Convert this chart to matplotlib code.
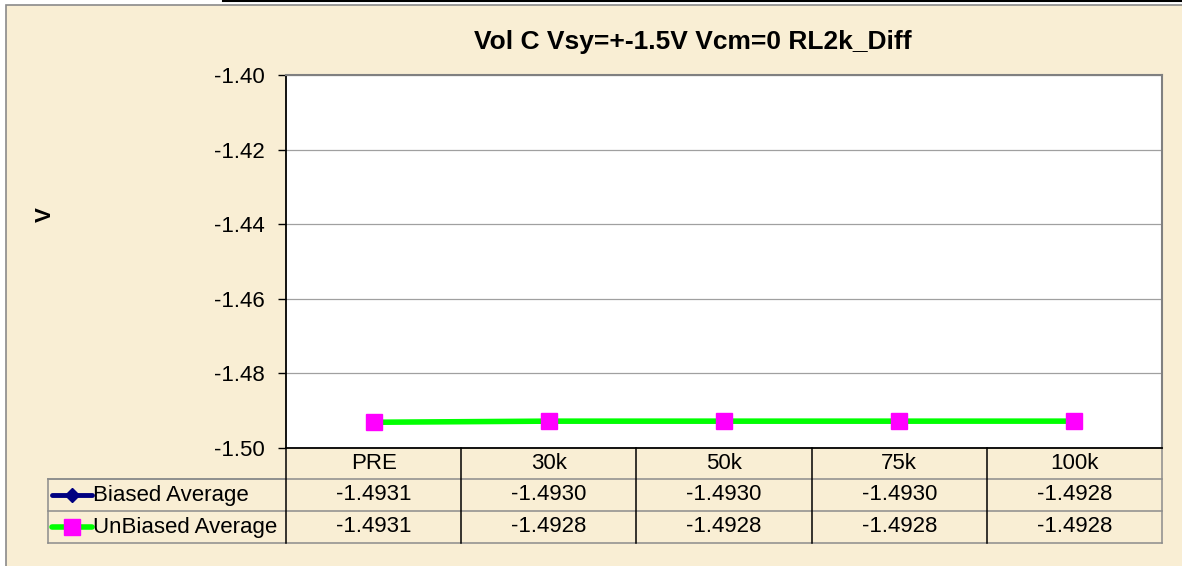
import matplotlib
matplotlib.use("Agg")
import matplotlib.pyplot as plt
from matplotlib.lines import Line2D
from matplotlib.patches import Rectangle

plt.rcParams['font.family'] = ['Liberation Sans', 'DejaVu Sans']

categories = ['PRE', '30k', '50k', '75k', '100k']
biased = [-1.4931, -1.4930, -1.4930, -1.4930, -1.4928]
unbiased = [-1.4931, -1.4928, -1.4928, -1.4928, -1.4928]
series_names = ['Biased Average', 'UnBiased Average']
yticks = [-1.50, -1.48, -1.46, -1.44, -1.42, -1.40]

W, H = 1182, 566
bg = '#F9EED4'

fig = plt.figure(figsize=(W / 100, H / 100), dpi=100)
fig.patch.set_facecolor('white')

# parchment chart area (cropped chart: white strip on left and top)
fig.patches.append(Rectangle((6 / W, -0.01), 1, 1.01 - 5 / H, transform=fig.transFigure,
                             facecolor=bg, edgecolor='#8a8a8a', lw=1.2, zorder=-10))
fig.lines.append(Line2D([223 / W, 1], [1 - 0.8 / H, 1 - 0.8 / H], transform=fig.transFigure,
                        color='black', lw=1.5))

# plot area in pixels
L, R, T, B = 286, 1162, 75, 448
ax = fig.add_axes([L / W, 1 - B / H, (R - L) / W, (B - T) / H])
ax.set_zorder(1)
ax.set_facecolor('white')

x = list(range(len(categories)))
ax.plot(x, biased, color='#000080', lw=2, marker='D', ms=6, mfc='#000080', mec='#000080', zorder=3)
ax.plot(x, unbiased, color='#00FF00', lw=4, marker='s', ms=11.5, mfc='#FF00FF', mec='#FF00FF', zorder=4)

ax.set_xlim(-0.5, len(categories) - 0.5)
ax.set_ylim(-1.50, -1.40)
ax.set_yticks(yticks)
ax.set_yticklabels([f'{v:.2f}' for v in yticks], fontsize=16)
ax.tick_params(axis='y', length=6, width=1, pad=9, color='black')
ax.set_xticks([])
ax.yaxis.grid(True, color='#a0a0a0', lw=0.9)
ax.set_axisbelow(True)
for s in ['top', 'right']:
    ax.spines[s].set_color('#808080')
    ax.spines[s].set_linewidth(1.5)
for s in ['left', 'bottom']:
    ax.spines[s].set_color('black')
    ax.spines[s].set_linewidth(1.3)

fig.text(693 / W, 1 - 42 / H, 'Vol C Vsy=+-1.5V Vcm=0 RL2k_Diff', ha='center', va='center',
         fontsize=19, fontweight='bold')
fig.text(45 / W, 1 - 215 / H, 'V', ha='center', va='center', rotation=90,
         fontsize=16, fontweight='bold')

# data table under the plot, in axes coordinates
ph = B - T
pw = R - L
rows_y = [0, -31 / ph, -63 / ph, -95 / ph]
leg_x = (48 - L) / pw
tr = ax.transAxes
grey = '#8c8c8c'

def seg(xs, ys, c):
    ax.add_line(Line2D(xs, ys, transform=tr, color=c, lw=1.1, clip_on=False))

for yy in rows_y[1:]:
    seg([leg_x, 1], [yy, yy], grey)
seg([leg_x, 0], [rows_y[1], rows_y[1]], grey)
seg([leg_x, leg_x], [rows_y[1], rows_y[3]], grey)
seg([1, 1], [0, rows_y[3]], grey)
for i in range(len(categories)):
    xx = i / len(categories)
    seg([xx, xx], [0, rows_y[3]], 'black')

ncat = len(categories)
for i, c in enumerate(categories):
    cx = (i + 0.5) / ncat
    ax.text(cx, (rows_y[0] + rows_y[1]) / 2, c, transform=tr, ha='center', va='center', fontsize=16)
    for r, vals in enumerate([biased, unbiased]):
        ax.text(cx, (rows_y[r + 1] + rows_y[r + 2]) / 2, f'{vals[i]:.4f}', transform=tr,
                ha='center', va='center', fontsize=16)

# legend keys in the table
keys = [dict(color='#000080', lw=3.5, marker='D', ms=7.5, fc='#000080'),
        dict(color='#00FF00', lw=4, marker='s', ms=11, fc='#FF00FF')]
for r, (name, k) in enumerate(zip(series_names, keys)):
    yy = (rows_y[r + 1] + rows_y[r + 2]) / 2
    ax.add_line(Line2D([(52 - L) / pw, (92 - L) / pw], [yy, yy], transform=tr, clip_on=False,
                       color=k['color'], lw=k['lw'], solid_capstyle='round'))
    ax.add_line(Line2D([(72 - L) / pw], [yy], transform=tr, clip_on=False, lw=0,
                       marker=k['marker'], ms=k['ms'], mfc=k['fc'], mec=k['fc']))
    ax.text((93 - L) / pw, yy, name, transform=tr, ha='left', va='center', fontsize=16)

fig.savefig('out.png', dpi=100, facecolor=fig.get_facecolor())
